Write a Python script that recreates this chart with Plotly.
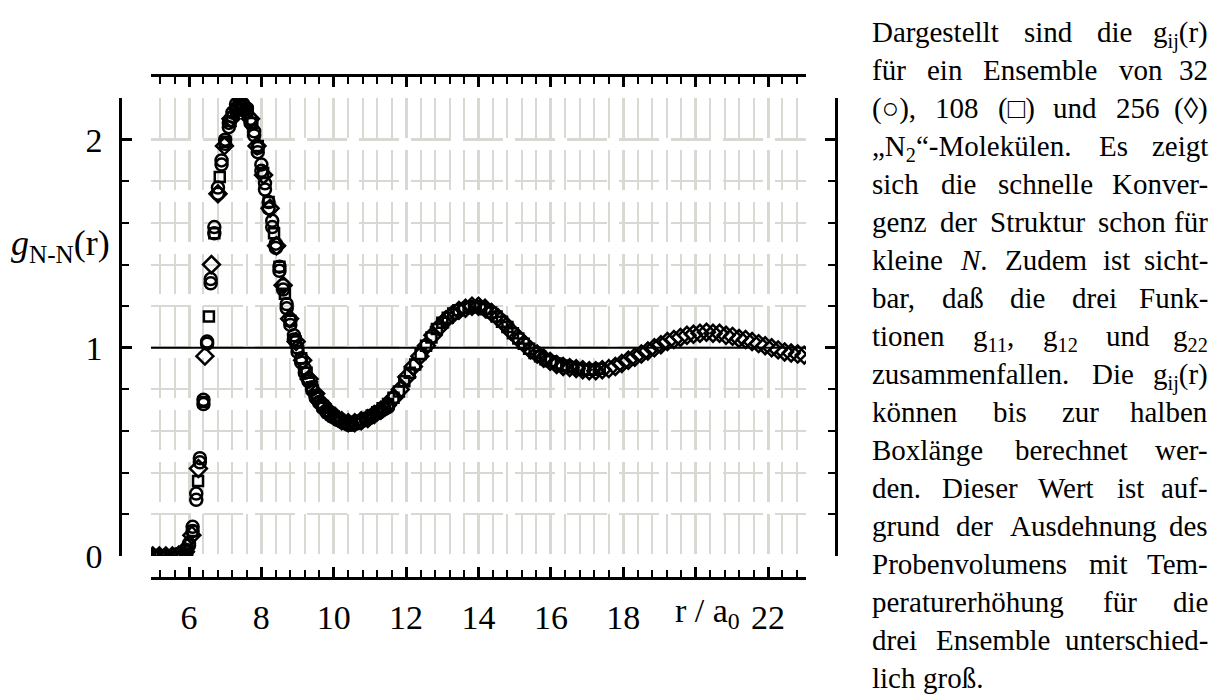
import re
import plotly.graph_objects as go

# ---------------- data ----------------
# 32 molecules (circles), two of the coinciding functions
r32 = [5.0, 5.1, 5.2, 5.3, 5.4, 5.5, 5.6, 5.7, 5.8, 5.9, 6.0, 6.1, 6.2, 6.3, 6.4, 6.5,
       6.6, 6.7, 6.8, 6.9, 7.0, 7.1, 7.2, 7.3, 7.4, 7.5, 7.6, 7.7, 7.8, 7.9, 8.0, 8.1,
       8.2, 8.3, 8.4, 8.5, 8.6, 8.7, 8.8, 8.9, 9.0, 9.1, 9.2, 9.3, 9.4, 9.5, 9.6, 9.7,
       9.8, 9.9, 10.0, 10.1, 10.2, 10.3, 10.4, 10.5, 10.6, 10.7, 10.8, 10.9, 11.0, 11.1,
       11.2, 11.3, 11.4, 11.5]
g32 = [0, 0, 0, 0, 0, 0, 0, 0.005, 0.01, 0.02, 0.05, 0.12, 0.27, 0.47, 0.73, 1.02,
       1.31, 1.55, 1.74, 1.88, 1.98, 2.06, 2.11, 2.15, 2.17, 2.17, 2.15, 2.10, 2.04, 1.96, 1.88, 1.79,
       1.70, 1.61, 1.50, 1.39, 1.30, 1.21, 1.13, 1.06, 1.00, 0.95, 0.90, 0.85, 0.81, 0.77, 0.74, 0.72,
       0.70, 0.685, 0.67, 0.66, 0.65, 0.64, 0.635, 0.635, 0.64, 0.645, 0.65, 0.66, 0.67, 0.68,
       0.69, 0.70, 0.71, 0.72]
g32b = [0, 0, 0, 0, 0, 0, 0.005, 0.01, 0.015, 0.03, 0.06, 0.14, 0.30, 0.45, 0.75, 1.03,
        1.33, 1.58, 1.77, 1.90, 2.00, 2.08, 2.13, 2.17, 2.18, 2.16, 2.13, 2.08, 2.02, 1.94, 1.85, 1.76,
        1.67, 1.58, 1.48, 1.37, 1.28, 1.19, 1.11, 1.04, 0.98, 0.93, 0.88, 0.84, 0.80, 0.76, 0.735, 0.71,
        0.69, 0.675, 0.665, 0.655, 0.645, 0.64, 0.63, 0.63, 0.635, 0.64, 0.65, 0.655, 0.665, 0.675,
        0.685, 0.695, 0.705, 0.715]

# 108 molecules (squares)
r108 = [5.05, 5.2, 5.35, 5.5, 5.65, 5.8, 5.95, 6.1, 6.25, 6.4, 6.55, 6.7, 6.85, 7.0, 7.15, 7.3,
        7.45, 7.6, 7.75, 7.9, 8.05, 8.2, 8.35, 8.5, 8.65, 8.8, 8.95, 9.1, 9.25, 9.4, 9.55, 9.7,
        9.85, 10.0, 10.15, 10.3, 10.45, 10.6, 10.75, 10.9, 11.05, 11.2, 11.35, 11.5, 11.65, 11.8,
        11.95, 12.1, 12.25, 12.4, 12.55, 12.7, 12.85, 13.0, 13.15, 13.3, 13.45, 13.6, 13.75, 13.9,
        14.05, 14.2, 14.35, 14.5, 14.65, 14.8, 14.95, 15.1, 15.25, 15.4, 15.55, 15.7, 15.85, 16.0,
        16.15, 16.3, 16.45, 16.6, 16.75, 16.9, 17.05, 17.2, 17.35]
g108 = [0, 0, 0, 0, 0, 0.01, 0.03, 0.12, 0.36, 0.74, 1.15, 1.55, 1.82, 1.99, 2.09, 2.14,
        2.16, 2.14, 2.08, 1.97, 1.84, 1.70, 1.55, 1.39, 1.26, 1.13, 1.03, 0.95, 0.88, 0.81, 0.76, 0.72,
        0.69, 0.67, 0.655, 0.645, 0.64, 0.645, 0.65, 0.66, 0.675, 0.69, 0.71, 0.73, 0.76, 0.79,
        0.84, 0.88, 0.92, 0.97, 1.01, 1.05, 1.09, 1.12, 1.145, 1.165, 1.18, 1.19, 1.195, 1.20,
        1.195, 1.185, 1.17, 1.15, 1.125, 1.10, 1.07, 1.045, 1.02, 0.995, 0.975, 0.96, 0.945, 0.935,
        0.925, 0.915, 0.91, 0.905, 0.90, 0.895, 0.895, 0.895, 0.90]

# 256 molecules (diamonds)
r256 = [5.0, 5.18, 5.36, 5.54, 5.72, 5.9, 6.08, 6.26, 6.44, 6.62, 6.8, 6.98, 7.16, 7.34, 7.52,
        7.7, 7.88, 8.06, 8.24, 8.42, 8.6, 8.78, 8.96, 9.14, 9.32, 9.5, 9.68, 9.86, 10.04, 10.22,
        10.4, 10.58, 10.76, 10.94, 11.12, 11.3, 11.48, 11.66, 11.84, 12.02, 12.2, 12.38, 12.56,
        12.74, 12.92, 13.1, 13.28, 13.46, 13.64, 13.82, 14.0, 14.18, 14.36, 14.54, 14.72, 14.9,
        15.08, 15.26, 15.44, 15.62, 15.8, 15.98, 16.16, 16.34, 16.52, 16.7, 16.88, 17.06, 17.24,
        17.42, 17.6, 17.78, 17.96, 18.14, 18.32, 18.5, 18.68, 18.86, 19.04, 19.22, 19.4, 19.58,
        19.76, 19.94, 20.12, 20.3, 20.48, 20.66, 20.84, 21.02, 21.2, 21.38, 21.56, 21.74, 21.92,
        22.1, 22.28, 22.46, 22.64, 22.82, 23.0]
g256 = [0, 0, 0, 0, 0.005, 0.02, 0.10, 0.42, 0.96, 1.40, 1.74, 1.97, 2.10, 2.15, 2.16,
        2.10, 1.97, 1.83, 1.67, 1.49, 1.30, 1.14, 1.03, 0.94, 0.85, 0.78, 0.73, 0.695, 0.67, 0.65,
        0.64, 0.64, 0.65, 0.66, 0.68, 0.70, 0.725, 0.76, 0.80, 0.86, 0.91, 0.96, 1.01,
        1.06, 1.10, 1.135, 1.16, 1.18, 1.19, 1.20, 1.20, 1.19, 1.17, 1.145, 1.115, 1.08,
        1.05, 1.02, 0.99, 0.97, 0.95, 0.935, 0.92, 0.91, 0.905, 0.90, 0.895, 0.89, 0.89,
        0.895, 0.90, 0.91, 0.925, 0.94, 0.955, 0.97, 0.985, 1.00, 1.015, 1.03, 1.04, 1.05,
        1.06, 1.065, 1.07, 1.075, 1.07, 1.07, 1.06, 1.055, 1.045, 1.04, 1.03, 1.02, 1.01,
        1.00, 0.99, 0.98, 0.975, 0.97, 0.965]

x_tickvals = [6, 8, 10, 12, 14, 16, 18, 20, 22]
x_ticktext = ["6", "8", "10", "12", "14", "16", "18", "", "22"]
y_tickvals = [0, 1, 2]
y_ticktext = ["0", "1", "2"]
x_unit_label = "r / a<sub>0</sub>"
y_label = "<i>g</i><sub>N-N</sub>(r)"
reference_level = 1.0

caption_lines = [
    ["Dargestellt", "sind", "die", "g<sub>ij</sub>(r)"],
    ["für", "ein", "Ensemble", "von", "32"],
    ["(○),", "108", "(□)", "und", "256", "(◊)"],
    ["„N<sub>2</sub>“-Molekülen.", "Es", "zeigt"],
    ["sich", "die", "schnelle", "Konver-"],
    ["genz", "der", "Struktur", "schon", "für"],
    ["kleine", "<i>N</i>.", "Zudem", "ist", "sicht-"],
    ["bar,", "daß", "die", "drei", "Funk-"],
    ["tionen", "g<sub>11</sub>,", "g<sub>12</sub>", "und", "g<sub>22</sub>"],
    ["zusammenfallen.", "Die", "g<sub>ij</sub>(r)"],
    ["können", "bis", "zur", "halben"],
    ["Boxlänge", "berechnet", "wer-"],
    ["den.", "Dieser", "Wert", "ist", "auf-"],
    ["grund", "der", "Ausdehnung", "des"],
    ["Probenvolumens", "mit", "Tem-"],
    ["peraturerhöhung", "für", "die"],
    ["drei", "Ensemble", "unterschied-"],
    ["lich", "groß."],
]

# ---------------- geometry / style ----------------
W, H = 1221, 696
PL, PR, PT, PB = 120, 836, 75, 578          # outer frame (paper) in px
IX0, IX1, IY0, IY1 = 151, 806, 98, 556      # inner data rectangle in px


def pxx(v):
    return (v - PL) / (PR - PL)


def pxy(v):
    return (PB - v) / (PB - PT)


SERIF = "Liberation Serif"
GRID = "#d9d9d4"
TICKFONT = dict(family=SERIF, size=34, color="black")

fig = go.Figure()
marker_line = dict(width=2.5, color="black")
fig.add_trace(go.Scatter(x=r256, y=g256, mode="markers", name="256",
                         marker=dict(symbol="diamond-open", size=13, color="black", line=marker_line)))
fig.add_trace(go.Scatter(x=r108, y=g108, mode="markers", name="108",
                         marker=dict(symbol="square-open", size=10, color="black", line=marker_line)))
fig.add_trace(go.Scatter(x=r32, y=g32b, mode="markers", name="32 b",
                         marker=dict(symbol="circle-open", size=12, color="black", line=marker_line)))
fig.add_trace(go.Scatter(x=r32, y=g32, mode="markers", name="32",
                         marker=dict(symbol="circle-open", size=12, color="black", line=marker_line)))
# carrier for the mirrored (top / right) axes
fig.add_trace(go.Scatter(x=[], y=[], xaxis="x2", yaxis="y2", mode="markers",
                         showlegend=False, hoverinfo="skip"))

xr = [4.95, 23.05]
yr = [0, 2.2]

common_x = dict(range=xr, domain=[pxx(IX0), pxx(IX1)], anchor="free", zeroline=False,
                showline=True, linecolor="black", linewidth=2.5,
                ticks="inside", ticklen=10, tickwidth=2.5, tickcolor="black",
                tickmode="array", tickvals=x_tickvals)
common_y = dict(range=yr, domain=[pxy(IY1), pxy(IY0)], anchor="free", zeroline=False,
                showline=True, linecolor="black", linewidth=2.5,
                ticks="inside", ticklen=10, tickwidth=2.5, tickcolor="black",
                tickmode="array", tickvals=y_tickvals)

fig.update_layout(
    width=W, height=H,
    margin=dict(l=PL, r=W - PR, t=PT, b=H - PB, pad=0),
    paper_bgcolor="white", plot_bgcolor="white",
    showlegend=False,
    xaxis=dict(**common_x, position=0, side="bottom",
               ticktext=x_ticktext, tickfont=TICKFONT, ticklabelstandoff=8,
               showgrid=True, gridcolor=GRID, gridwidth=2.5, griddash="40px,12px",
               minor=dict(dtick=0.4, tick0=0, ticks="inside", ticklen=7, tickwidth=2,
                          tickcolor="black", showgrid=True, gridcolor=GRID, gridwidth=1.8,
                          griddash="40px,12px")),
    xaxis2=dict(**common_x, position=1, side="top", overlaying="x", matches="x",
                showticklabels=False, showgrid=False,
                minor=dict(dtick=0.4, tick0=0, ticks="inside", ticklen=7, tickwidth=2,
                           tickcolor="black", showgrid=False)),
    yaxis=dict(**common_y, position=0, side="left",
               ticktext=y_ticktext, tickfont=TICKFONT, ticklabelstandoff=10,
               showgrid=True, gridcolor=GRID, gridwidth=2.5, griddash="40px,12px",
               minor=dict(dtick=0.2, tick0=0, ticks="inside", ticklen=7, tickwidth=2,
                          tickcolor="black", showgrid=True, gridcolor=GRID, gridwidth=1.8,
                          griddash="40px,12px")),
    yaxis2=dict(**common_y, position=1, side="right", overlaying="y", matches="y",
                showticklabels=False, showgrid=False,
                minor=dict(dtick=0.2, tick0=0, ticks="inside", ticklen=7, tickwidth=2,
                           tickcolor="black", showgrid=False)),
)

fig.add_shape(type="line", xref="x domain", yref="y", x0=0, x1=1,
              y0=reference_level, y1=reference_level,
              line=dict(color="black", width=2))

annotations = []
# x unit label in place of the "20" tick label
annotations.append(dict(x=20.33, xref="x", y=pxy(590), yref="paper", text=x_unit_label,
                        showarrow=False, xanchor="center", yanchor="top",
                        font=dict(family=SERIF, size=34, color="black")))
# y axis label
annotations.append(dict(x=pxx(60), y=pxy(245), xref="paper", yref="paper", text=y_label,
                        showarrow=False, xanchor="center", yanchor="middle",
                        font=dict(family=SERIF, size=36, color="black")))

# ---------------- justified caption ----------------
TW = {
    'a': 444, 'b': 500, 'c': 444, 'd': 500, 'e': 444, 'f': 333, 'g': 500, 'h': 500, 'i': 278,
    'j': 278, 'k': 500, 'l': 278, 'm': 778, 'n': 500, 'o': 500, 'p': 500, 'q': 500, 'r': 333,
    's': 389, 't': 278, 'u': 500, 'v': 500, 'w': 722, 'x': 500, 'y': 500, 'z': 444,
    'ä': 444, 'ö': 500, 'ü': 500, 'ß': 500,
    'A': 722, 'B': 667, 'C': 667, 'D': 722, 'E': 611, 'F': 556, 'G': 722, 'H': 722, 'I': 333,
    'J': 389, 'K': 722, 'L': 611, 'M': 889, 'N': 722, 'O': 722, 'P': 556, 'Q': 722, 'R': 667,
    'S': 556, 'T': 611, 'U': 722, 'V': 722, 'W': 944, 'X': 722, 'Y': 722, 'Z': 611,
    ',': 250, '.': 250, '-': 333, '(': 333, ')': 333, '„': 444, '“': 444, ' ': 250,
    '○': 604, '□': 604, '◊': 494,
}
CAP_FS = 29
CAP_X0, CAP_X1 = 870, 1210
BASE0, LEAD = 41, 38.0


def word_width(w, fs):
    total = 0.0
    for part in re.split(r'(<sub>.*?</sub>)', w):
        if part.startswith('<sub>'):
            txt, scale = part[5:-6], 0.7
        else:
            txt, scale = re.sub(r'<[^>]+>', '', part), 1.0
        total += sum(TW.get(ch, 500) for ch in txt) * scale
    return total / 1000.0 * fs


for i, words in enumerate(caption_lines):
    base = BASE0 + i * LEAD
    top = base - 0.891 * CAP_FS - 1
    widths = [word_width(w, CAP_FS) for w in words]
    last = i == len(caption_lines) - 1
    if last or len(words) == 1:
        gap = 0.25 * CAP_FS
    else:
        gap = (CAP_X1 - CAP_X0 - sum(widths)) / (len(words) - 1)
    xpos = CAP_X0
    for k, w in enumerate(words):
        if (not last) and k == len(words) - 1 and k > 0:
            annotations.append(dict(x=pxx(CAP_X1), y=pxy(top), xref="paper", yref="paper",
                                    text=w, showarrow=False, xanchor="right", yanchor="top",
                                    font=dict(family=SERIF, size=CAP_FS, color="black")))
        else:
            annotations.append(dict(x=pxx(xpos), y=pxy(top), xref="paper", yref="paper",
                                    text=w, showarrow=False, xanchor="left", yanchor="top",
                                    font=dict(family=SERIF, size=CAP_FS, color="black")))
        xpos += widths[k] + gap

fig.update_layout(annotations=annotations)

fig.write_html("out.html")
